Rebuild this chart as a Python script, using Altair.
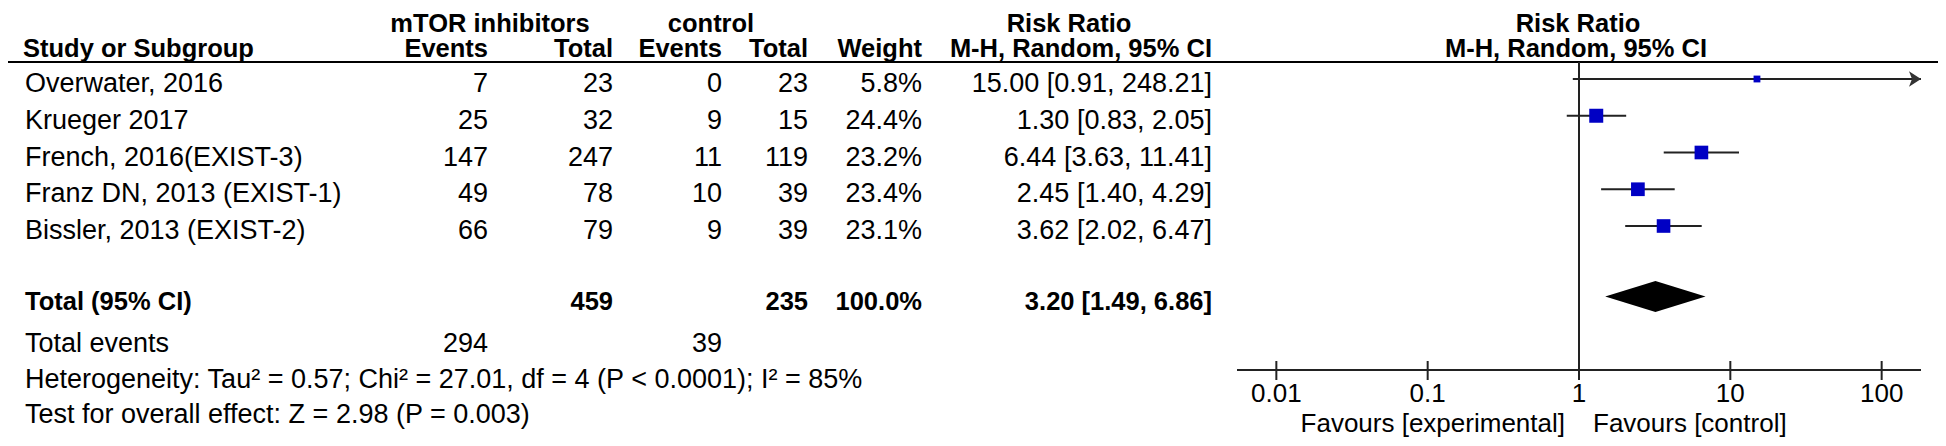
import altair as alt
import pandas as pd

# ---------------- data ----------------
studies = ["Overwater, 2016", "Krueger 2017", "French, 2016(EXIST-3)",
           "Franz DN, 2013 (EXIST-1)", "Bissler, 2013 (EXIST-2)"]
exp_events = [7, 25, 147, 49, 66]
exp_total = [23, 32, 247, 78, 79]
ctl_events = [0, 9, 11, 10, 9]
ctl_total = [23, 15, 119, 39, 39]
weights = [5.8, 24.4, 23.2, 23.4, 23.1]
rr = [15.00, 1.30, 6.44, 2.45, 3.62]
rr_lo = [0.91, 0.83, 3.63, 1.40, 2.02]
rr_hi = [248.21, 2.05, 11.41, 4.29, 6.47]

total_exp = 459
total_ctl = 235
total_weight = 100.0
pooled = [3.20]
pooled_lo = [1.49]
pooled_hi = [6.86]
events_exp = 294
events_ctl = 39
het_text = "Heterogeneity: Tau\u00b2 = 0.57; Chi\u00b2 = 27.01, df = 4 (P < 0.0001); I\u00b2 = 85%"
test_text = "Test for overall effect: Z = 2.98 (P = 0.003)"
tick_values = [0.01, 0.1, 1, 10, 100]
tick_labels = ["0.01", "0.1", "1", "10", "100"]

# ---------------- layout ----------------
W, H = 1930, 430
FONT = "Liberation Sans"
FS = 27      # regular font size
FSB = 25.5   # bold font size
FSA = 26     # axis font size
ROW0, ROWH = 71.0, 36.75
TOTAL_ROW = 5.92
XLO, XHI = 10 ** -2.26, 10 ** 2.26
xscale = alt.Scale(type="log", domain=[XLO, XHI], range=[1229, 1913], nice=False)
yscale = alt.Scale(domain=[-ROW0 / ROWH, (H - ROW0) / ROWH], reverse=True,
                   nice=False, zero=False)

n = len(studies)
df = pd.DataFrame({
    "row": list(range(n)),
    "study": studies,
    "ee": [str(v) for v in exp_events],
    "et": [str(v) for v in exp_total],
    "ce": [str(v) for v in ctl_events],
    "ct": [str(v) for v in ctl_total],
    "w": [f"{v:.1f}%" for v in weights],
    "weight": weights,
    "rr": rr,
    "lo": rr_lo,
    "hi": rr_hi,
    "hi_c": [min(h, XHI) for h in rr_hi],
    "ci": [f"{a:.2f} [{b:.2f}, {c:.2f}]" for a, b, c in zip(rr, rr_lo, rr_hi)],
})

layers = []

def label(text, x, y, align="left", bold=False, size=None):
    return alt.Chart(pd.DataFrame({"t": [text]})).mark_text(
        align=align, baseline="alphabetic", font=FONT,
        fontSize=size if size else (FSB if bold else FS),
        fontWeight="bold" if bold else "normal", color="#000"
    ).encode(x=alt.value(x), y=alt.value(y), text="t:N")

# headers
HDR1, HDR2 = 24, 48.5
layers += [
    label("mTOR inhibitors", 482, HDR1, "center", True),
    label("control", 703, HDR1, "center", True),
    label("Risk Ratio", 1061, HDR1, "center", True),
    label("Risk Ratio", 1570, HDR1, "center", True),
    label("Study or Subgroup", 15, HDR2, "left", True),
    label("Events", 480, HDR2, "right", True),
    label("Total", 605, HDR2, "right", True),
    label("Events", 714, HDR2, "right", True),
    label("Total", 800, HDR2, "right", True),
    label("Weight", 914, HDR2, "right", True),
    label("M-H, Random, 95% CI", 1204, HDR2, "right", True),
    label("M-H, Random, 95% CI", 1568, HDR2, "center", True),
]

# header underline
layers.append(alt.Chart(pd.DataFrame({"a": [0]})).mark_rule(color="#000", strokeWidth=2).encode(
    x=alt.value(0), x2=alt.value(W), y=alt.value(54)))

# study table columns
cols = [("study", 17, "left"), ("ee", 480, "right"), ("et", 605, "right"),
        ("ce", 714, "right"), ("ct", 800, "right"), ("w", 914, "right"),
        ("ci", 1204, "right")]
for field, x, al in cols:
    layers.append(alt.Chart(df).mark_text(
        align=al, baseline="alphabetic", dy=13, font=FONT, fontSize=FS, color="#000"
    ).encode(x=alt.value(x), y=alt.Y("row:Q", scale=yscale, axis=None), text=f"{field}:N"))

# total row
tot = pd.DataFrame({"row": [TOTAL_ROW], "name": ["Total (95% CI)"], "et": [str(total_exp)],
                    "ct": [str(total_ctl)], "w": [f"{total_weight:.1f}%"],
                    "ci": [f"{pooled[0]:.2f} [{pooled_lo[0]:.2f}, {pooled_hi[0]:.2f}]"]})
for field, x, al in [("name", 17, "left"), ("et", 605, "right"), ("ct", 800, "right"),
                     ("w", 914, "right"), ("ci", 1204, "right")]:
    layers.append(alt.Chart(tot).mark_text(
        align=al, baseline="alphabetic", dy=13, font=FONT, fontSize=FSB,
        fontWeight="bold", color="#000"
    ).encode(x=alt.value(x), y=alt.Y("row:Q", scale=yscale, axis=None), text=f"{field}:N"))

# footer lines
layers += [
    label("Total events", 17, 344),
    label(str(events_exp), 480, 344, "right"),
    label(str(events_ctl), 714, 344, "right"),
    label(het_text, 17, 380),
    label(test_text, 17, 415),
]

# ---------------- forest plot ----------------
# null line
layers.append(alt.Chart(pd.DataFrame({"v": [1]})).mark_rule(color="#222", strokeWidth=2).encode(
    x=alt.X("v:Q", scale=xscale, axis=None), y=alt.value(54), y2=alt.value(362)))

# confidence intervals
layers.append(alt.Chart(df).mark_rule(color="#222", strokeWidth=2).encode(
    x=alt.X("lo:Q", scale=xscale, axis=None), x2="hi_c:Q",
    y=alt.Y("row:Q", scale=yscale, axis=None)))

# arrow for clipped CI
arrow_shape = "M 0 0 L -2 -1.3 L -1.5 0 L -2 1.3 Z"
layers.append(alt.Chart(df).transform_filter(f"datum.hi > {XHI}").mark_point(
    shape=arrow_shape, filled=True, color="#333", size=144, opacity=1, strokeWidth=0
).encode(x=alt.X("hi_c:Q", scale=xscale, axis=None),
         y=alt.Y("row:Q", scale=yscale, axis=None)))

# squares
layers.append(alt.Chart(df).mark_square(color="#0000c4", opacity=1, filled=True).encode(
    x=alt.X("rr:Q", scale=xscale, axis=None),
    y=alt.Y("row:Q", scale=yscale, axis=None),
    size=alt.Size("weight:Q", scale=alt.Scale(domain=[0, 24.4], range=[0, 196]), legend=None)))

# pooled diamond
hd = 15.5 / ROWH
diamond = pd.DataFrame({
    "x": [pooled_lo[0], pooled[0], pooled_hi[0]],
    "y1": [TOTAL_ROW, TOTAL_ROW - hd, TOTAL_ROW],
    "y2": [TOTAL_ROW, TOTAL_ROW + hd, TOTAL_ROW],
})
layers.append(alt.Chart(diamond).mark_area(color="#000", opacity=1, orient="vertical",
                                           interpolate="linear").encode(
    x=alt.X("x:Q", scale=xscale, axis=None),
    y=alt.Y("y1:Q", scale=yscale, axis=None), y2="y2:Q"))

# x axis line, ticks and labels
layers.append(alt.Chart(pd.DataFrame({"a": [XLO], "b": [XHI]})).mark_rule(
    color="#222", strokeWidth=2).encode(
    x=alt.X("a:Q", scale=xscale, axis=None), x2="b:Q", y=alt.value(362)))
ticks = pd.DataFrame({"v": tick_values, "label": tick_labels})
layers.append(alt.Chart(ticks).mark_rule(color="#222", strokeWidth=2).encode(
    x=alt.X("v:Q", scale=xscale, axis=None), y=alt.value(353), y2=alt.value(372)))
layers.append(alt.Chart(ticks).mark_text(
    align="center", baseline="alphabetic", font=FONT, fontSize=FSA, color="#000").encode(
    x=alt.X("v:Q", scale=xscale, axis=None), y=alt.value(394), text="label:N"))

layers += [
    label("Favours [experimental]", 1557, 424, "right", size=FSA),
    label("Favours [control]", 1585, 424, "left", size=FSA),
]

chart = alt.layer(*layers).properties(
    width=W, height=H, padding=0, autosize="none"
).configure_view(stroke=None)

chart.save("out.html", embed_options={"renderer": "svg", "actions": False})
